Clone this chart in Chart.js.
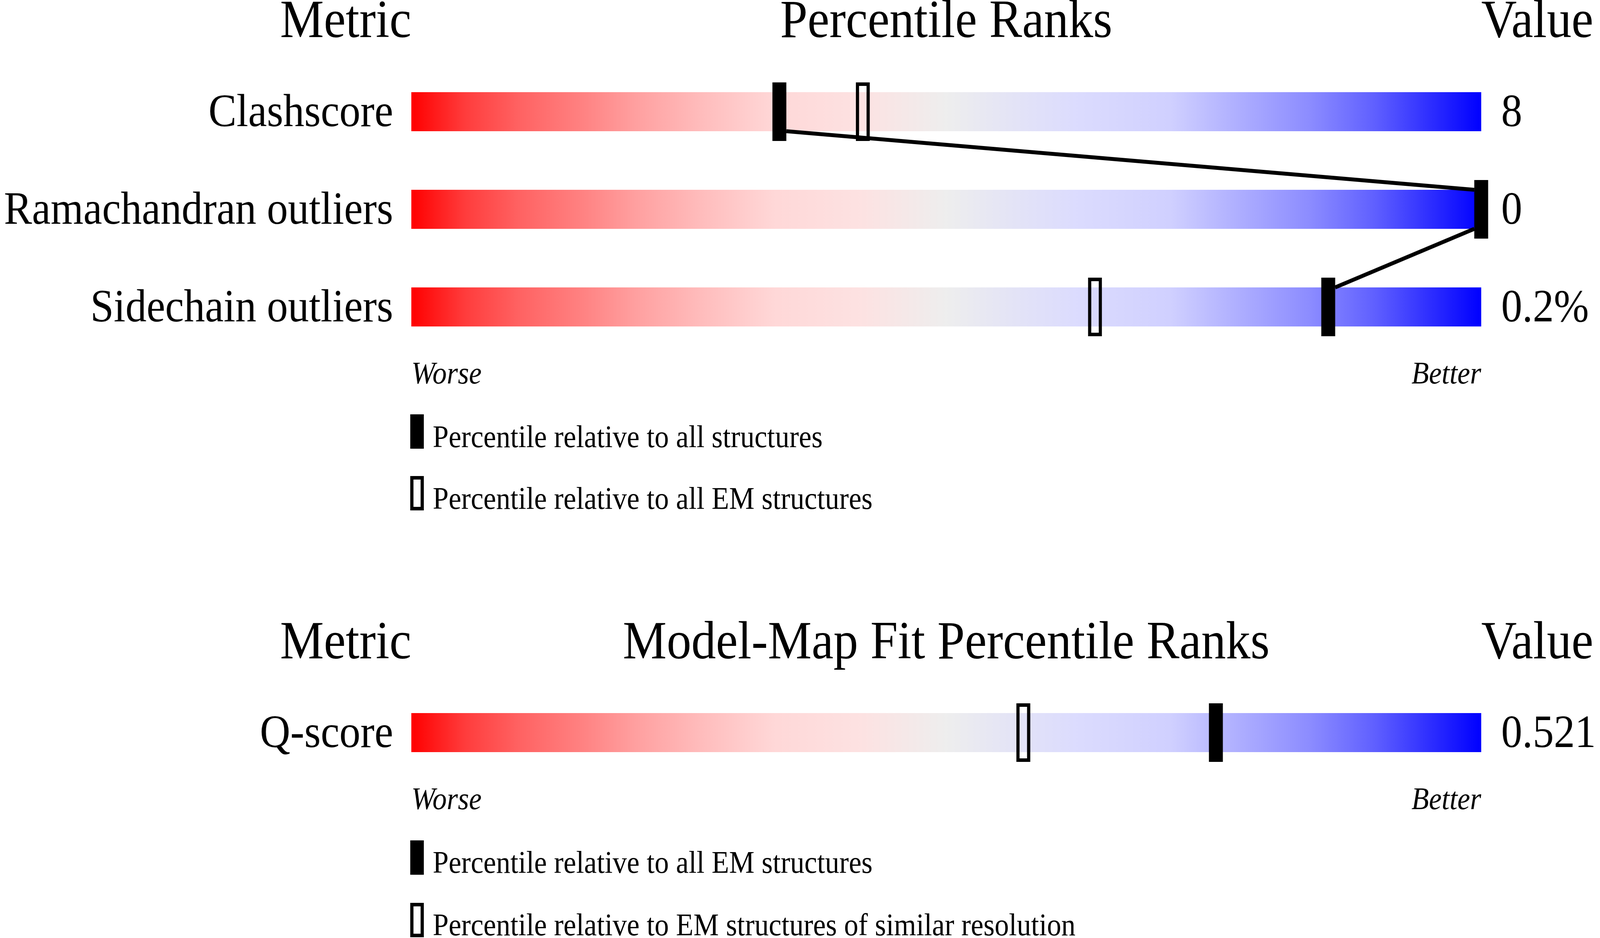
<!DOCTYPE html>
<html>
<head>
<meta charset="utf-8">
<title>Percentile ranks</title>
<script src="https://cdn.jsdelivr.net/npm/chart.js@4.4.1/dist/chart.umd.min.js"></script>
<style>
  html, body { margin: 0; overflow: hidden; background: #fff; }
  #page { position: absolute; left: 0; top: 0; width: 4485px; height: 2402px; transform-origin: 0 0; font-family: "Liberation Serif", "Times New Roman", serif; color: #000; }
  .head { position: absolute; font-size: 138px; line-height: 138px; white-space: nowrap; }
  .leg { position: absolute; left: 1213px; font-size: 80px; line-height: 80px; white-space: nowrap; }
  .swatch { position: absolute; left: 1150px; width: 38px; height: 88px; box-sizing: border-box; }
  .filled { background: #000; }
  .open { border: 9px solid #000; }
  canvas { position: absolute; left: 0; }
</style>
</head>
<body>
<div id="page">

<div class="head" style="left:0;width:1153px;text-align:right;top:-20px">Metric</div>
<div class="head" style="left:1153px;width:2999px;text-align:center;top:-20px">Percentile Ranks</div>
<div class="head" style="left:4152px;top:-20px">Value</div>
<canvas id="validation" width="4485" height="850" style="top:161px;width:4485px;height:850px"></canvas>
<div class="swatch filled" style="top:1061px"></div>
<div class="leg" style="top:1078px">Percentile relative to all structures</div>
<div class="swatch open" style="top:1219px"></div>
<div class="leg" style="top:1236px">Percentile relative to all EM structures</div>

<div class="head" style="left:0;width:1153px;text-align:right;top:1571px">Metric</div>
<div class="head" style="left:1153px;width:2999px;text-align:center;top:1571px">Model-Map Fit Percentile Ranks</div>
<div class="head" style="left:4152px;top:1571px">Value</div>
<canvas id="fit" width="4485" height="350" style="top:1751px;width:4485px;height:350px"></canvas>
<div class="swatch filled" style="top:2152px"></div>
<div class="leg" style="top:2168px">Percentile relative to all EM structures</div>
<div class="swatch open" style="top:2312px"></div>
<div class="leg" style="top:2328px">Percentile relative to EM structures of similar resolution</div>

</div>
<script>
// geometry chart 1
const metrics = ['Clashscore', 'Ramachandran outliers', 'Sidechain outliers'];
const metricValues = ['8', '0', '0.2%'];
const pctAll = [34.4, 100, 85.7];      // black markers
const pctAllEM = [42.2, null, 63.9];   // open markers

// model-map fit
const fitMetrics = ['Q-score'];
const fitValues = ['0.521'];
const fitPctEM = [75.2];               // black
const fitPctRes = [57.2];              // open

const scaleRange = [0, 100];
const endTicks = [0, 100];
const endLabels = ['Worse', 'Better'];

const markerHalf = 0.65;
const gradStops = [
    [0, '#ff0000'], [0.05, '#ff3c3c'], [0.10, '#ff6262'], [0.16, '#ff8282'],
    [0.21, '#ffa0a0'], [0.27, '#ffbcbc'], [0.34, '#ffd8d8'], [0.42, '#fde2e2'],
    [0.50, '#eeeeee'], [0.56, '#e4e4f6'], [0.62, '#dcdcfe'], [0.71, '#d0d0ff'],
    [0.77, '#b0b0ff'], [0.84, '#8c8cff'], [0.90, '#6060ff'], [1, '#0000ff']
];
const serif = 'Liberation Serif';

// the page is laid out at 4485 wide; squeeze it if the window is narrower
const pageW = 4485;
const k = Math.min(1, window.innerWidth / pageW);
document.getElementById('page').style.transform = 'scaleX(' + k + ')';

function gradientFill(ctx) {
    const chart = ctx.chart;
    const x = chart.scales.x;
    if (!x || !chart.chartArea) return '#eeeeee';
    const x0 = x.getPixelForValue(scaleRange[0]);
    const x1 = x.getPixelForValue(scaleRange[1]);
    if (!isFinite(x0) || !isFinite(x1)) return '#eeeeee';
    const g = chart.ctx.createLinearGradient(x0, 0, x1, 0);
    gradStops.forEach(s => g.addColorStop(s[0], s[1]));
    return g;
}

// fixed axis sizes, no extra label padding pushed into the layout
function fixBox(w, h) {
    return s => {
        if (w != null) s.width = w;
        if (h != null) s.height = h;
        s.paddingTop = 0;
        s.paddingBottom = 0;
        s.paddingLeft = 0;
        s.paddingRight = 0;
    };
}

// line joining the black markers, from bar edge to bar edge
const connectors = {
    id: 'connectors',
    afterDatasetsDraw(chart, args, opts) {
        if (!opts.show) return;
        const bars = chart.getDatasetMeta(0).data;
        const marks = chart.getDatasetMeta(2).data;
        const c = chart.ctx;
        c.save();
        c.strokeStyle = '#000';
        c.lineWidth = 10;
        for (let i = 0; i < marks.length - 1; i++) {
            const a = marks[i], b = marks[i + 1];
            if (!a || !b) continue;
            const aL = Math.min(a.x, a.base), aR = Math.max(a.x, a.base);
            const bL = Math.min(b.x, b.base), bR = Math.max(b.x, b.base);
            const right = (bL + bR) >= (aL + aR);
            const y1 = bars[i].y + bars[i].height / 2;
            const y2 = bars[i + 1].y - bars[i + 1].height / 2;
            c.beginPath();
            c.moveTo(right ? aR : aL, y1);
            c.lineTo(right ? bL : bR, y2);
            c.stroke();
        }
        c.restore();
    }
};

function makeChart(id, labels, values, filled, open, joined) {
    const span = p => (p == null ? null : [p - markerHalf, p + markerHalf]);
    return new Chart(document.getElementById(id), {
        type: 'bar',
        data: {
            labels: labels,
            datasets: [{
                label: 'range',
                data: labels.map(() => scaleRange.slice()),
                backgroundColor: gradientFill,
                borderWidth: 0,
                barThickness: 100,
                grouped: false,
                inflateAmount: 0,
                order: 3
            }, {
                label: 'open',
                data: open.map(span),
                backgroundColor: 'rgba(0,0,0,0)',
                borderColor: '#000',
                borderWidth: 9,
                borderSkipped: false,
                barThickness: 150,
                grouped: false,
                inflateAmount: 0,
                clip: false,
                order: 2
            }, {
                label: 'filled',
                data: filled.map(span),
                backgroundColor: '#000',
                borderWidth: 0,
                barThickness: 150,
                grouped: false,
                inflateAmount: 0,
                clip: false,
                order: 1
            }]
        },
        options: {
            indexAxis: 'y',
            responsive: false,
            animation: false,
            devicePixelRatio: 1,
            layout: { padding: 0 },
            events: [],
            scales: {
                x: {
                    type: 'linear',
                    min: scaleRange[0],
                    max: scaleRange[1],
                    grid: { display: false, drawTicks: false },
                    border: { display: false },
                    afterBuildTicks: s => { s.ticks = endTicks.map(v => ({ value: v })); },
                    afterFit: fixBox(null, 100),
                    ticks: {
                        autoSkip: false,
                        maxRotation: 0,
                        align: 'inner',
                        padding: 2,
                        color: '#000',
                        font: { family: serif, size: 80, style: 'italic' },
                        callback: (v, i) => endLabels[i]
                    }
                },
                y: {
                    type: 'category',
                    grid: { display: false, drawTicks: false },
                    border: { display: false },
                    afterFit: fixBox(1153, null),
                    ticks: { padding: 51, labelOffset: 6, color: '#000', font: { family: serif, size: 118 } }
                },
                y2: {
                    type: 'category',
                    position: 'right',
                    labels: values,
                    offset: true,
                    grid: { display: false, drawTicks: false },
                    border: { display: false },
                    afterFit: fixBox(333, null),
                    ticks: { padding: 56, labelOffset: 6, color: '#000', font: { family: serif, size: 118 } }
                }
            },
            plugins: {
                legend: { display: false },
                tooltip: { enabled: false },
                connectors: { show: joined }
            }
        },
        plugins: [connectors]
    });
}

makeChart('validation', metrics, metricValues, pctAll, pctAllEM, true);
makeChart('fit', fitMetrics, fitValues, fitPctEM, fitPctRes, false);
</script>
</body>
</html>
